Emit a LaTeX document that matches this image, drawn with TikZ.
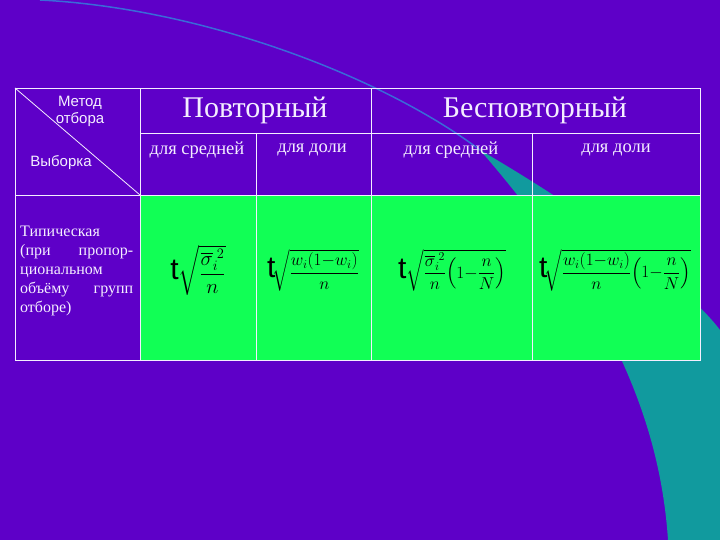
\documentclass[tikz,border=0pt]{standalone}
\usepackage{amsmath}
\usepackage{fontspec}
\setmainfont{Liberation Serif}
\newfontfamily\arialf{Liberation Sans}
\definecolor{bg}{HTML}{5E00C8}
\definecolor{teal1}{HTML}{119A9E}
\definecolor{arcb}{HTML}{3A6AD8}
\definecolor{grn}{HTML}{11FF55}
\definecolor{txt}{HTML}{F4EEFF}
\newcommand{\bigt}{\mbox{\arialf\fontsize{30}{30}\selectfont t}}
\begin{document}
\begin{tikzpicture}[x=1pt,y=-1pt,
  hd/.style={text=txt,font=\fontsize{30}{32}\selectfont},
  sub/.style={text=txt,font=\fontsize{18.5}{20}\selectfont},
  fm/.style={text=black,font=\fontsize{21}{24}\selectfont,inner sep=0pt},
  fms/.style={text=black,font=\fontsize{16.5}{20}\selectfont,inner sep=0pt},
  grid/.style={draw=txt,line width=0.8pt}]
\fill[bg] (0,0) rectangle (720,540);
\useasboundingbox (0,0) rectangle (720,540);
\fill[teal1] (480,150) .. controls (600,220) and (690,290) .. (720,330) -- (720,540) -- (668,540) .. controls (660,420) and (610,300) .. (480,150) -- cycle;
\draw[arcb,line width=1.5pt] (40,0) .. controls (200,8) and (380,75) .. (480,150);
\fill[grn] (140,195) rectangle (700,360);
\draw[grid] (15,88) rectangle (700,360);
\draw[grid] (140,88) -- (140,360);
\draw[grid] (371,88) -- (371,360);
\draw[grid] (256,133) -- (256,360);
\draw[grid] (532,133) -- (532,360);
\draw[grid] (140,133) -- (700,133);
\draw[grid] (15,195) -- (700,195);
\draw[grid] (15,88) -- (140,195);
\node[text=txt,font=\arialf\fontsize{15}{17}\selectfont,align=center] (m) at (80,111) {Метод\\отбора};
\node[text=txt,font=\arialf\fontsize{15}{17}\selectfont] (v) at (61,163) {Выборка};
\node[hd] (p) at (255,110) {Повторный};
\node[hd] (b) at (535,110) {Бесповторный};
\node[sub] (s1) at (197,150) {для средней};
\node[sub] (d1) at (312,150) {для доли};
\node[sub] (s2) at (451,150) {для средней};
\node[sub] (d2) at (616,150) {для доли};
\node[text=txt,font=\fontsize{16}{19}\selectfont,text width=113pt,align=justify,anchor=north west,inner sep=0pt] (t) at (20,226)
 {Типическая\\ (при\hfill пропор-\\ циональном\\ объёму\hfill групп\\ отборе)};
\node[fm] (f1) at (198,270) {\bigt$\sqrt{\dfrac{\overline{\sigma}_i^{\;2}}{n}}$};
\node[fms] (f2) at (313,270) {\bigt$\!\sqrt{\dfrac{w_i(1{-}w_i)}{n}}$};
\node[fms] (f3) at (452,270) {\bigt$\sqrt{\dfrac{\overline{\sigma}_i^{\;2}}{n}\!\left(1{-}\dfrac{n}{N}\right)}$};
\node[fms] (f4) at (615,270) {\bigt$\!\sqrt{\dfrac{w_i(1{-}w_i)}{n}\!\left(1{-}\dfrac{n}{N}\right)}$};
\end{tikzpicture}
\end{document}
